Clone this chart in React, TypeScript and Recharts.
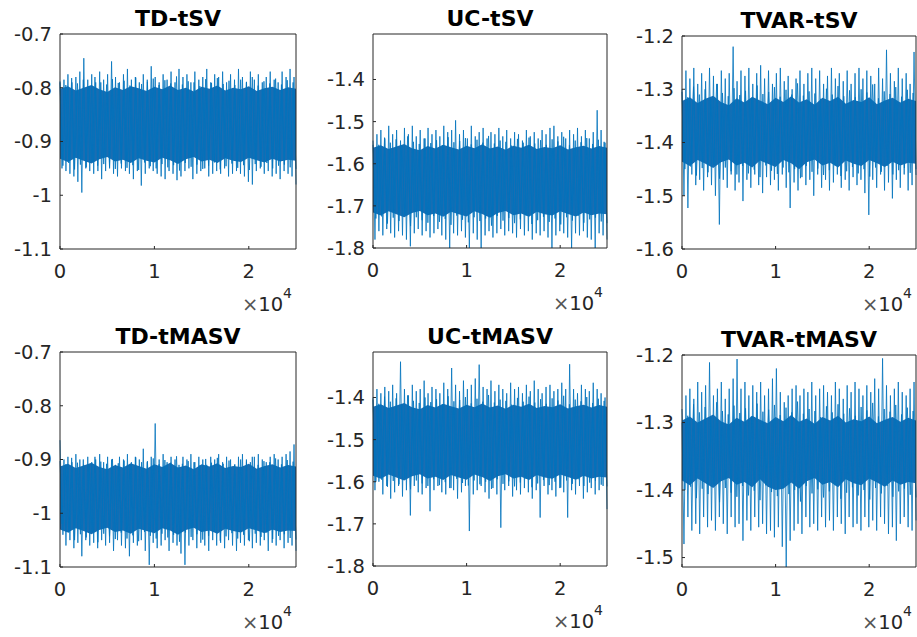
import React from 'react'
import { ComposedChart, Line, Area, XAxis, YAxis } from 'recharts'

const titles = ['TD-tSV', 'UC-tSV', 'TVAR-tSV', 'TD-tMASV', 'UC-tMASV', 'TVAR-tMASV']
const draws = 25000
const xTicks = [0, 10000, 20000]

// spike tips, left to right (upper / lower)
const tdTsvHi = [
  -0.79, -0.785, -0.775, -0.79, -0.78, -0.77, -0.745, -0.785, -0.775, -0.79,
  -0.77, -0.785, -0.775, -0.751, -0.78, -0.79, -0.775, -0.765, -0.785, -0.78,
  -0.79, -0.775, -0.785, -0.76, -0.78, -0.79, -0.775, -0.785, -0.77, -0.79,
  -0.765, -0.78, -0.775, -0.79, -0.77, -0.785, -0.78, -0.765, -0.79, -0.775,
  -0.78, -0.77, -0.79, -0.775, -0.785, -0.765, -0.78, -0.79, -0.77, -0.785,
  -0.775, -0.79, -0.78, -0.77, -0.785, -0.79, -0.77, -0.78, -0.765, -0.78,
]
const tdTsvLo = [
  -0.95, -0.955, -0.96, -0.965, -0.975, -0.995, -0.95, -0.955, -0.96, -0.945,
  -0.97, -0.955, -0.95, -0.96, -0.965, -0.95, -0.955, -0.96, -0.97, -0.955,
  -0.982, -0.96, -0.95, -0.955, -0.96, -0.965, -0.97, -0.955, -0.96, -0.972,
  -0.965, -0.955, -0.95, -0.97, -0.96, -0.955, -0.95, -0.965, -0.96, -0.955,
  -0.96, -0.95, -0.965, -0.96, -0.955, -0.96, -0.965, -0.975, -0.98, -0.955,
  -0.95, -0.96, -0.955, -0.965, -0.96, -0.97, -0.955, -0.96, -0.965, -0.98,
]
const ucTsvHi = [
  -1.555, -1.53, -1.52, -1.54, -1.51, -1.53, -1.52, -1.545, -1.515, -1.53,
  -1.51, -1.535, -1.52, -1.54, -1.515, -1.53, -1.52, -1.535, -1.51, -1.525,
  -1.52, -1.497, -1.53, -1.52, -1.54, -1.51, -1.535, -1.525, -1.515, -1.54,
  -1.525, -1.53, -1.515, -1.535, -1.52, -1.54, -1.525, -1.53, -1.545, -1.52,
  -1.535, -1.525, -1.54, -1.52, -1.53, -1.515, -1.51, -1.535, -1.525, -1.54,
  -1.52, -1.53, -1.515, -1.535, -1.52, -1.54, -1.525, -1.473, -1.52, -1.55,
]
const ucTsvLo = [
  -1.78, -1.76, -1.77, -1.755, -1.765, -1.775, -1.76, -1.77, -1.78, -1.796,
  -1.765, -1.755, -1.77, -1.76, -1.775, -1.765, -1.755, -1.77, -1.78, -1.8,
  -1.765, -1.77, -1.76, -1.775, -1.8, -1.765, -1.78, -1.8, -1.77, -1.76,
  -1.775, -1.765, -1.755, -1.77, -1.76, -1.765, -1.775, -1.755, -1.77, -1.76,
  -1.78, -1.765, -1.77, -1.76, -1.775, -1.8, -1.77, -1.76, -1.765, -1.775,
  -1.8, -1.765, -1.77, -1.76, -1.775, -1.78, -1.8, -1.765, -1.77, -1.78,
]
const tvarTsvHi = [
  -1.3, -1.265, -1.28, -1.26, -1.29, -1.27, -1.285, -1.26, -1.275, -1.29,
  -1.265, -1.28, -1.27, -1.22, -1.285, -1.265, -1.275, -1.26, -1.29, -1.27,
  -1.255, -1.28, -1.265, -1.29, -1.27, -1.26, -1.285, -1.275, -1.3, -1.28,
  -1.265, -1.29, -1.27, -1.26, -1.28, -1.265, -1.29, -1.275, -1.26, -1.28,
  -1.27, -1.285, -1.265, -1.29, -1.27, -1.26, -1.28, -1.265, -1.275, -1.29,
  -1.26, -1.28, -1.226, -1.27, -1.285, -1.26, -1.28, -1.27, -1.29, -1.23,
]
const tvarTsvLo = [
  -1.5, -1.523, -1.46, -1.48, -1.47, -1.49, -1.465, -1.48, -1.5, -1.554,
  -1.47, -1.485, -1.46, -1.49, -1.475, -1.51, -1.47, -1.485, -1.46, -1.48,
  -1.495, -1.465, -1.48, -1.47, -1.49, -1.46, -1.485, -1.523, -1.475, -1.49,
  -1.465, -1.48, -1.47, -1.5, -1.46, -1.485, -1.47, -1.49, -1.475, -1.46,
  -1.485, -1.47, -1.49, -1.465, -1.48, -1.47, -1.495, -1.536, -1.47, -1.485,
  -1.46, -1.49, -1.475, -1.505, -1.47, -1.485, -1.46, -1.49, -1.48, -1.45,
]
const tdTmasvHi = [
  -0.864, -0.9, -0.895, -0.905, -0.89, -0.9, -0.91, -0.895, -0.905, -0.9,
  -0.89, -0.905, -0.895, -0.9, -0.91, -0.895, -0.9, -0.89, -0.905, -0.895,
  -0.9, -0.88, -0.905, -0.895, -0.833, -0.9, -0.89, -0.905, -0.895, -0.9,
  -0.91, -0.895, -0.9, -0.89, -0.905, -0.895, -0.9, -0.91, -0.895, -0.9,
  -0.89, -0.905, -0.895, -0.9, -0.91, -0.895, -0.89, -0.9, -0.905, -0.895,
  -0.89, -0.9, -0.905, -0.895, -0.89, -0.9, -0.895, -0.89, -0.885, -0.872,
]
const tdTmasvLo = [
  -1.02, -1.06, -1.05, -1.065, -1.055, -1.08, -1.05, -1.06, -1.055, -1.065,
  -1.05, -1.06, -1.055, -1.07, -1.05, -1.06, -1.065, -1.08, -1.055, -1.06,
  -1.05, -1.07, -1.096, -1.055, -1.065, -1.06, -1.05, -1.07, -1.055, -1.06,
  -1.075, -1.096, -1.06, -1.05, -1.065, -1.055, -1.06, -1.07, -1.05, -1.06,
  -1.055, -1.065, -1.05, -1.06, -1.07, -1.055, -1.06, -1.05, -1.065, -1.055,
  -1.06, -1.05, -1.07, -1.055, -1.06, -1.05, -1.065, -1.055, -1.06, -1.07,
]
const ucTmasvHi = [
  -1.4, -1.38, -1.39, -1.375, -1.385, -1.37, -1.39, -1.315, -1.38, -1.395,
  -1.37, -1.385, -1.38, -1.36, -1.39, -1.375, -1.38, -1.39, -1.365, -1.38,
  -1.33, -1.37, -1.385, -1.36, -1.38, -1.37, -1.355, -1.322, -1.375, -1.38,
  -1.36, -1.385, -1.37, -1.38, -1.39, -1.365, -1.38, -1.375, -1.39, -1.37,
  -1.385, -1.36, -1.38, -1.39, -1.375, -1.37, -1.385, -1.38, -1.365, -1.38,
  -1.321, -1.38, -1.39, -1.37, -1.38, -1.385, -1.365, -1.38, -1.39, -1.4,
]
const ucTmasvLo = [
  -1.62, -1.6, -1.63, -1.61, -1.64, -1.625, -1.61, -1.635, -1.62, -1.68,
  -1.61, -1.625, -1.63, -1.615, -1.67, -1.62, -1.61, -1.625, -1.63, -1.615,
  -1.62, -1.64, -1.625, -1.61, -1.717, -1.63, -1.62, -1.61, -1.625, -1.64,
  -1.615, -1.63, -1.709, -1.62, -1.61, -1.635, -1.62, -1.63, -1.615, -1.625,
  -1.64, -1.62, -1.685, -1.61, -1.63, -1.62, -1.635, -1.615, -1.625, -1.685,
  -1.62, -1.63, -1.61, -1.64, -1.625, -1.615, -1.63, -1.62, -1.61, -1.665,
]
const tvarTmasvHi = [
  -1.3, -1.26, -1.25, -1.265, -1.24, -1.255, -1.245, -1.211, -1.26, -1.25,
  -1.24, -1.265, -1.25, -1.235, -1.206, -1.25, -1.24, -1.26, -1.245, -1.255,
  -1.24, -1.26, -1.25, -1.235, -1.22, -1.255, -1.27, -1.26, -1.25, -1.245,
  -1.26, -1.25, -1.255, -1.24, -1.26, -1.25, -1.245, -1.255, -1.26, -1.24,
  -1.25, -1.265, -1.245, -1.255, -1.24, -1.25, -1.26, -1.245, -1.255, -1.235,
  -1.25, -1.205, -1.245, -1.26, -1.25, -1.24, -1.255, -1.26, -1.25, -1.24,
]
const tvarTmasvLo = [
  -1.48, -1.44, -1.46, -1.45, -1.465, -1.44, -1.455, -1.445, -1.46, -1.44,
  -1.45, -1.465, -1.44, -1.455, -1.45, -1.475, -1.445, -1.46, -1.44, -1.455,
  -1.45, -1.465, -1.46, -1.47, -1.455, -1.484, -1.514, -1.475, -1.46, -1.45,
  -1.465, -1.44, -1.455, -1.45, -1.46, -1.44, -1.455, -1.445, -1.46, -1.44,
  -1.45, -1.465, -1.44, -1.455, -1.45, -1.46, -1.44, -1.455, -1.445, -1.46,
  -1.44, -1.45, -1.465, -1.455, -1.475, -1.45, -1.44, -1.455, -1.46, -1.445,
]

// short spikes hugging the dense middle (upper / lower)
const tdTsvInHi = [
  -0.788, -0.795, -0.782, -0.792, -0.785, -0.797, -0.78, -0.79, -0.794, -0.784,
  -0.791, -0.787, -0.796, -0.781, -0.793, -0.789, -0.783, -0.795, -0.786, -0.792,
  -0.779, -0.794, -0.788, -0.79, -0.797, -0.784, -0.791, -0.782, -0.793, -0.787,
  -0.795, -0.785, -0.789, -0.78, -0.796, -0.788, -0.792, -0.783, -0.794, -0.786, -0.79,
]
const tdTsvInLo = [
  -0.945, -0.94, -0.952, -0.943, -0.948, -0.938, -0.955, -0.942, -0.947, -0.951,
  -0.941, -0.949, -0.944, -0.953, -0.939, -0.946, -0.95, -0.942, -0.948, -0.944,
  -0.954, -0.94, -0.947, -0.943, -0.951, -0.945, -0.939, -0.952, -0.946, -0.941,
  -0.949, -0.944, -0.953, -0.942, -0.947, -0.94, -0.95, -0.945, -0.943, -0.948, -0.951,
]
const ucTsvInHi = [
  -1.545, -1.555, -1.538, -1.55, -1.542, -1.557, -1.535, -1.548, -1.553, -1.54,
  -1.551, -1.544, -1.556, -1.537, -1.549, -1.546, -1.539, -1.554, -1.543, -1.55,
  -1.534, -1.552, -1.545, -1.548, -1.557, -1.541, -1.55, -1.538, -1.552, -1.544,
  -1.555, -1.542, -1.547, -1.536, -1.556, -1.545, -1.549, -1.539, -1.553, -1.543, -1.548,
]
const ucTsvInLo = [
  -1.73, -1.725, -1.742, -1.728, -1.736, -1.722, -1.748, -1.727, -1.734, -1.74,
  -1.724, -1.738, -1.731, -1.745, -1.723, -1.733, -1.739, -1.727, -1.736, -1.73,
  -1.747, -1.724, -1.735, -1.729, -1.741, -1.732, -1.723, -1.743, -1.734, -1.726,
  -1.738, -1.73, -1.744, -1.727, -1.735, -1.724, -1.74, -1.732, -1.728, -1.737, -1.741,
]
const tvarTsvInHi = [
  -1.305, -1.315, -1.295, -1.31, -1.3, -1.318, -1.29, -1.307, -1.313, -1.298,
  -1.311, -1.303, -1.317, -1.293, -1.309, -1.305, -1.296, -1.314, -1.301, -1.31,
  -1.289, -1.312, -1.304, -1.308, -1.318, -1.299, -1.31, -1.294, -1.313, -1.302,
  -1.315, -1.3, -1.306, -1.291, -1.317, -1.304, -1.309, -1.296, -1.314, -1.301, -1.307,
]
const tvarTsvInLo = [
  -1.45, -1.445, -1.462, -1.448, -1.456, -1.442, -1.468, -1.447, -1.454, -1.46,
  -1.444, -1.458, -1.451, -1.465, -1.443, -1.453, -1.459, -1.447, -1.456, -1.45,
  -1.467, -1.444, -1.455, -1.449, -1.461, -1.452, -1.443, -1.463, -1.454, -1.446,
  -1.458, -1.45, -1.464, -1.447, -1.455, -1.444, -1.46, -1.452, -1.448, -1.457, -1.461,
]
const tdTmasvInHi = [
  -0.903, -0.909, -0.897, -0.906, -0.9, -0.911, -0.895, -0.904, -0.908, -0.899,
  -0.907, -0.902, -0.91, -0.896, -0.905, -0.903, -0.898, -0.909, -0.901, -0.906,
  -0.894, -0.908, -0.903, -0.905, -0.911, -0.899, -0.906, -0.897, -0.908, -0.902,
  -0.909, -0.9, -0.904, -0.895, -0.91, -0.903, -0.905, -0.898, -0.909, -0.901, -0.904,
]
const tdTmasvInLo = [
  -1.04, -1.036, -1.05, -1.039, -1.045, -1.035, -1.054, -1.038, -1.043, -1.048,
  -1.036, -1.047, -1.041, -1.052, -1.035, -1.042, -1.047, -1.038, -1.045, -1.04,
  -1.053, -1.036, -1.044, -1.039, -1.049, -1.042, -1.035, -1.051, -1.043, -1.037,
  -1.047, -1.04, -1.052, -1.038, -1.044, -1.036, -1.048, -1.042, -1.039, -1.046, -1.049,
]
const ucTmasvInHi = [
  -1.405, -1.415, -1.398, -1.41, -1.402, -1.417, -1.395, -1.408, -1.413, -1.4,
  -1.411, -1.404, -1.416, -1.397, -1.409, -1.406, -1.399, -1.414, -1.403, -1.41,
  -1.394, -1.412, -1.405, -1.408, -1.417, -1.401, -1.41, -1.398, -1.412, -1.404,
  -1.415, -1.402, -1.407, -1.396, -1.416, -1.405, -1.409, -1.399, -1.413, -1.403, -1.408,
]
const ucTmasvInLo = [
  -1.6, -1.595, -1.612, -1.598, -1.606, -1.592, -1.618, -1.597, -1.604, -1.61,
  -1.594, -1.608, -1.601, -1.615, -1.593, -1.603, -1.609, -1.597, -1.606, -1.6,
  -1.617, -1.594, -1.605, -1.599, -1.611, -1.602, -1.593, -1.613, -1.604, -1.596,
  -1.608, -1.6, -1.614, -1.597, -1.605, -1.594, -1.61, -1.602, -1.598, -1.607, -1.611,
]
const tvarTmasvInHi = [
  -1.28, -1.29, -1.273, -1.285, -1.277, -1.292, -1.27, -1.283, -1.288, -1.275,
  -1.286, -1.279, -1.291, -1.272, -1.284, -1.281, -1.274, -1.289, -1.278, -1.285,
  -1.269, -1.287, -1.28, -1.283, -1.292, -1.276, -1.285, -1.273, -1.287, -1.279,
  -1.29, -1.277, -1.282, -1.271, -1.291, -1.28, -1.284, -1.274, -1.288, -1.278, -1.283,
]
const tvarTmasvInLo = [
  -1.4, -1.395, -1.412, -1.398, -1.406, -1.392, -1.418, -1.397, -1.404, -1.41,
  -1.394, -1.408, -1.401, -1.415, -1.393, -1.403, -1.409, -1.397, -1.406, -1.4,
  -1.417, -1.394, -1.405, -1.399, -1.411, -1.402, -1.393, -1.413, -1.404, -1.396,
  -1.408, -1.4, -1.414, -1.397, -1.405, -1.394, -1.41, -1.402, -1.398, -1.407, -1.411,
]

// edges of the solid middle band, left to right (top / bottom)
const tdTsvCoreTop = [
  -0.802, -0.797, -0.805, -0.8, -0.795, -0.803, -0.808, -0.799, -0.804, -0.797, -0.801,
  -0.806, -0.798, -0.803, -0.796, -0.804, -0.8, -0.807, -0.798, -0.802, -0.796,
  -0.805, -0.8, -0.803, -0.797, -0.806, -0.801, -0.798, -0.804, -0.799, -0.802,
]
const tdTsvCoreBot = [
  -0.932, -0.938, -0.93, -0.936, -0.941, -0.933, -0.929, -0.937, -0.934, -0.94, -0.931,
  -0.936, -0.939, -0.93, -0.935, -0.942, -0.933, -0.929, -0.937, -0.934, -0.94,
  -0.931, -0.936, -0.938, -0.93, -0.935, -0.939, -0.932, -0.937, -0.934, -0.936,
]
const ucTsvCoreTop = [
  -1.562, -1.556, -1.565, -1.559, -1.553, -1.563, -1.568, -1.558, -1.564, -1.555, -1.561,
  -1.566, -1.557, -1.563, -1.554, -1.564, -1.559, -1.567, -1.557, -1.562, -1.555,
  -1.565, -1.56, -1.563, -1.556, -1.566, -1.561, -1.557, -1.564, -1.558, -1.562,
]
const ucTsvCoreBot = [
  -1.716, -1.723, -1.713, -1.72, -1.727, -1.717, -1.712, -1.722, -1.718, -1.726, -1.714,
  -1.72, -1.725, -1.713, -1.719, -1.728, -1.717, -1.712, -1.722, -1.718, -1.726,
  -1.714, -1.72, -1.723, -1.713, -1.719, -1.725, -1.716, -1.722, -1.718, -1.72,
]
const tvarTsvCoreTop = [
  -1.322, -1.315, -1.326, -1.318, -1.312, -1.324, -1.33, -1.317, -1.325, -1.314, -1.321,
  -1.328, -1.316, -1.324, -1.313, -1.325, -1.319, -1.329, -1.316, -1.322, -1.314,
  -1.327, -1.32, -1.324, -1.315, -1.328, -1.321, -1.316, -1.325, -1.318, -1.322,
]
const tvarTsvCoreBot = [
  -1.436, -1.444, -1.433, -1.44, -1.448, -1.437, -1.432, -1.443, -1.438, -1.447, -1.434,
  -1.44, -1.446, -1.433, -1.439, -1.45, -1.437, -1.432, -1.443, -1.438, -1.447,
  -1.434, -1.44, -1.444, -1.433, -1.439, -1.446, -1.436, -1.443, -1.438, -1.44,
]
const tdTmasvCoreTop = [
  -0.913, -0.908, -0.916, -0.911, -0.906, -0.914, -0.918, -0.91, -0.915, -0.907, -0.912,
  -0.917, -0.909, -0.914, -0.906, -0.915, -0.911, -0.918, -0.909, -0.913, -0.907,
  -0.916, -0.912, -0.914, -0.908, -0.917, -0.912, -0.909, -0.915, -0.91, -0.913,
]
const tdTmasvCoreBot = [
  -1.03, -1.036, -1.028, -1.033, -1.039, -1.031, -1.027, -1.035, -1.032, -1.038, -1.029,
  -1.033, -1.037, -1.028, -1.032, -1.04, -1.031, -1.027, -1.035, -1.032, -1.038,
  -1.029, -1.033, -1.036, -1.028, -1.032, -1.037, -1.03, -1.035, -1.032, -1.033,
]
const ucTmasvCoreTop = [
  -1.422, -1.416, -1.425, -1.419, -1.413, -1.423, -1.428, -1.418, -1.424, -1.415, -1.421,
  -1.426, -1.417, -1.423, -1.414, -1.424, -1.419, -1.427, -1.417, -1.422, -1.415,
  -1.425, -1.42, -1.423, -1.416, -1.426, -1.421, -1.417, -1.424, -1.418, -1.422,
]
const ucTmasvCoreBot = [
  -1.586, -1.593, -1.583, -1.59, -1.597, -1.587, -1.582, -1.592, -1.588, -1.596, -1.584,
  -1.59, -1.595, -1.583, -1.589, -1.598, -1.587, -1.582, -1.592, -1.588, -1.596,
  -1.584, -1.59, -1.593, -1.583, -1.589, -1.595, -1.586, -1.592, -1.588, -1.59,
]
const tvarTmasvCoreTop = [
  -1.297, -1.291, -1.3, -1.294, -1.288, -1.298, -1.303, -1.293, -1.299, -1.29, -1.296,
  -1.301, -1.292, -1.298, -1.289, -1.299, -1.294, -1.302, -1.292, -1.297, -1.29,
  -1.3, -1.295, -1.298, -1.291, -1.301, -1.296, -1.292, -1.299, -1.293, -1.297,
]
const tvarTmasvCoreBot = [
  -1.386, -1.393, -1.383, -1.39, -1.397, -1.387, -1.382, -1.392, -1.388, -1.396, -1.384,
  -1.395, -1.4, -1.398, -1.389, -1.398, -1.387, -1.382, -1.392, -1.388, -1.396,
  -1.384, -1.39, -1.393, -1.383, -1.389, -1.395, -1.386, -1.392, -1.388, -1.39,
]

const yTicks = [
  [-1.1, -1, -0.9, -0.8, -0.7],
  [-1.8, -1.7, -1.6, -1.5, -1.4],
  [-1.6, -1.5, -1.4, -1.3, -1.2],
  [-1.1, -1, -0.9, -0.8, -0.7],
  [-1.8, -1.7, -1.6, -1.5, -1.4],
  [-1.5, -1.4, -1.3, -1.2],
]

const his = [tdTsvHi, ucTsvHi, tvarTsvHi, tdTmasvHi, ucTmasvHi, tvarTmasvHi]
const los = [tdTsvLo, ucTsvLo, tvarTsvLo, tdTmasvLo, ucTmasvLo, tvarTmasvLo]
const inHis = [tdTsvInHi, ucTsvInHi, tvarTsvInHi, tdTmasvInHi, ucTmasvInHi, tvarTmasvInHi]
const inLos = [tdTsvInLo, ucTsvInLo, tvarTsvInLo, tdTmasvInLo, ucTmasvInLo, tvarTmasvInLo]
const coreTops = [tdTsvCoreTop, ucTsvCoreTop, tvarTsvCoreTop, tdTmasvCoreTop, ucTmasvCoreTop, tvarTmasvCoreTop]
const coreBots = [tdTsvCoreBot, ucTsvCoreBot, tvarTsvCoreBot, tdTmasvCoreBot, ucTmasvCoreBot, tvarTmasvCoreBot]

const domains: [number, number][] = [
  [-1.1, -0.7], [-1.8, -1.292], [-1.6, -1.2],
  [-1.1, -0.7], [-1.8, -1.292], [-1.514, -1.2],
]
const boxes = [
  { x: 60, y: 34, w: 236, h: 215 },
  { x: 373, y: 34, w: 234, h: 214 },
  { x: 682, y: 36, w: 234, h: 213 },
  { x: 60, y: 352, w: 236, h: 215 },
  { x: 373, y: 352, w: 234, h: 214 },
  { x: 682, y: 355, w: 234, h: 212 },
]

const blue = '#0072BD'
const ink = '#262626'
const font = '"DejaVu Sans", sans-serif'
const padTop = 14

type Row = { it: number; v?: number; w?: number; core?: number[] }

function zigzag(hi: number[], lo: number[], key: 'v' | 'w') {
  const n = Math.min(hi.length, lo.length)
  const step = draws / (2 * n - 1)
  const rows: Row[] = []
  for (let i = 0; i < n; i++) {
    rows.push({ it: 2 * i * step, [key]: hi[i] })
    rows.push({ it: (2 * i + 1) * step, [key]: lo[i] })
  }
  return rows
}

function buildTrace(idx: number) {
  const top = coreTops[idx]
  const bot = coreBots[idx]
  const n = Math.min(top.length, bot.length)
  const coreRows: Row[] = top.slice(0, n).map((t, i) => ({
    it: (i * draws) / (n - 1),
    core: [bot[i], t],
  }))
  const rows = [
    ...coreRows,
    ...zigzag(his[idx], los[idx], 'v'),
    ...zigzag(inHis[idx], inLos[idx], 'w'),
  ]
  return rows.sort((a, b) => a.it - b.it)
}

const fmtY = (v: number) => String(Number(v.toFixed(2)))
const tickStyle = { fontSize: 19.5, fill: ink, fontFamily: font }

function Trace({ idx }: { idx: number }) {
  const box = boxes[idx]
  const data = buildTrace(idx)
  const W = box.w + 61
  const H = box.h + 41 + padTop
  const bottom = box.y + box.h
  return (
    <>
      <div
        style={{
          position: 'absolute', left: box.x, top: box.y - 26, width: box.w,
          textAlign: 'center', fontFamily: font, fontWeight: 'bold',
          fontSize: 22, lineHeight: '22px', color: '#000', whiteSpace: 'nowrap',
        }}
      >
        {titles[idx]}
      </div>
      <div style={{ position: 'absolute', left: box.x - 60, top: box.y - 1 - padTop }}>
        <ComposedChart width={W} height={H} data={data} margin={{ top: padTop, right: 0, bottom: 0, left: 0 }}>
          <XAxis
            xAxisId="b" dataKey="it" type="number" domain={[0, draws]} ticks={xTicks}
            tickFormatter={(v) => String(v / 10000)} height={40} stroke={ink}
            tick={tickStyle} tickSize={-3} tickMargin={18} interval={0}
          />
          <XAxis
            xAxisId="t" dataKey="it" type="number" orientation="top" domain={[0, draws]}
            ticks={xTicks} height={1} stroke={ink} tick={false} tickSize={-3} interval={0}
          />
          <YAxis
            yAxisId="l" type="number" domain={domains[idx]} ticks={yTicks[idx]} allowDataOverflow
            width={60} stroke={ink} tick={tickStyle} tickFormatter={fmtY}
            tickSize={-3} tickMargin={11} interval={0}
          />
          <YAxis
            yAxisId="r" orientation="right" type="number" domain={domains[idx]} ticks={yTicks[idx]}
            allowDataOverflow width={1} stroke={ink} tick={false} tickSize={-3} interval={0}
          />
          <Area
            xAxisId="b" yAxisId="l" dataKey="core" type="linear" stroke="none"
            fill="#1b6db2" fillOpacity={1} connectNulls isAnimationActive={false}
          />
          <Line
            xAxisId="b" yAxisId="l" dataKey="w" type="linear" stroke={blue}
            strokeWidth={0.8} dot={false} connectNulls isAnimationActive={false}
          />
          <Line
            xAxisId="b" yAxisId="l" dataKey="v" type="linear" stroke={blue}
            strokeWidth={0.8} dot={false} connectNulls isAnimationActive={false}
          />
        </ComposedChart>
      </div>
      <div
        style={{
          position: 'absolute', left: box.x, top: bottom + 46, width: box.w - 4,
          textAlign: 'right', fontFamily: font, fontSize: 19.5, lineHeight: '20px',
          color: ink, whiteSpace: 'nowrap',
        }}
      >
        <span style={{ color: '#555' }}>×</span>10
        <span style={{ fontSize: 14, position: 'relative', top: -13 }}>4</span>
      </div>
    </>
  )
}

export default function App() {
  return (
    <div style={{ position: 'absolute', left: 0, top: 0, width: 917, height: 637, background: '#fff', overflow: 'hidden' }}>
      {titles.map((_, i) => (
        <Trace key={i} idx={i} />
      ))}
    </div>
  )
}
